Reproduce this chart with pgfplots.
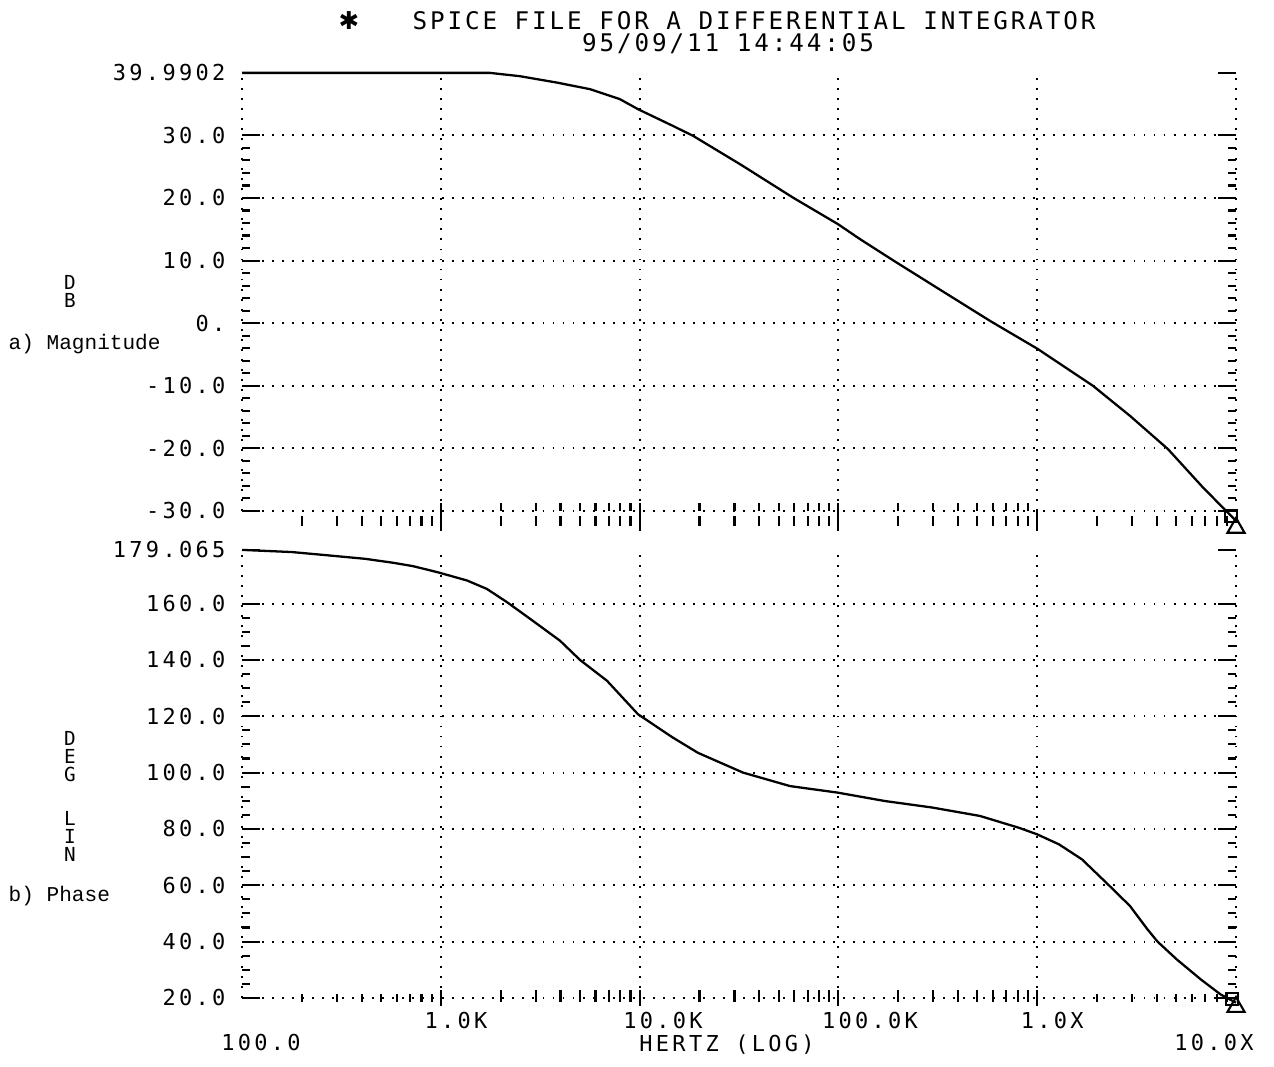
\documentclass[border=0pt]{standalone}
\usepackage{pgfplots}
\pgfplotsset{compat=1.18}
\usepackage{fontspec}
\newfontfamily\plotfont[LetterSpace=15]{DejaVu Sans Mono}
\newfontfamily\titlefont[LetterSpace=12]{DejaVu Sans Mono}
\newfontfamily\typefont{Liberation Mono}
\newfontfamily\symfont{DejaVu Sans}
\newcommand{\pf}{\plotfont\fontsize{6.25pt}{7pt}\selectfont}
\newcommand{\stk}{\plotfont\fontsize{5.5pt}{6pt}\selectfont}
\newcommand{\ttl}{\titlefont\fontsize{6.9pt}{8pt}\selectfont}
\newcommand{\tf}{\typefont\fontsize{6pt}{7pt}\selectfont}

\tikzset{dotgrid/.style={black, line width=0.55pt, dash pattern=on 0.55pt off 2.3pt}}
\def\minorx{200,300,400,500,600,700,800,900,
  2000,3000,4000,5000,6000,7000,8000,9000,
  20000,30000,40000,50000,60000,70000,80000,90000,
  200000,300000,400000,500000,600000,700000,800000,900000,
  2000000,3000000,4000000,5000000,6000000,7000000,8000000,9000000}

\begin{document}
\begin{tikzpicture}
\path (0,0) rectangle (12.74,-10.55);

% ---------- a) magnitude ----------
\begin{axis}[scale only axis, width=9.94cm, height=4.38cm,
  xmode=log, xmin=100, xmax=1e7, ymin=-30, ymax=39.9902,
  clip=false, anchor=north west, at={(2.42cm,-0.72cm)},
  tick style={black, line width=0.6pt}, tick align=inside,
  major tick length=0.18cm, minor tick length=0.08cm,
  axis x line*=bottom, axis y line*=left,
  x axis line style={draw=none}, y axis line style={dotgrid},
  xtick={1e3,1e4,1e5,1e6}, xticklabels={}, major x tick style={draw=none},
  xmajorgrids, ymajorgrids, grid style={dotgrid},
  ytick={-30,-20,-10,0,10,20,30},
  yticklabels={-30.0,-20.0,-10.0,0.,10.0,20.0,30.0},
  minor y tick num=4,
  extra y ticks={39.9902}, extra y tick labels={39.9902},
  extra y tick style={grid=none},
  yticklabel style={font=\pf, anchor=east, inner sep=0pt, xshift=-0.16cm}]
\addplot[black, line width=0.65pt] coordinates {
  (100,39.99) (1768,39.99) (2500,39.46) (3837,38.44) (5623,37.39)
  (7962,35.79) (9816,34.19) (14700,31.52) (18600,29.92) (32000,25.40)
  (59100,20.06) (99600,15.81) (128500,13.42) (192800,9.84) (330000,5.2)
  (579000,0.36) (1010000,-4.16) (1910000,-10.03) (2930000,-14.82)
  (4550000,-20.14) (6820000,-26.26) (10000000,-31.6)
};
\addplot[only marks, mark=square, mark size=1.7pt, black, line width=0.6pt]
  coordinates {(9440000,-30.8)};
\addplot[only marks, mark=triangle, mark size=2.8pt, black, line width=0.6pt]
  coordinates {(10000000,-32.7)};
\end{axis}
% bottom ticks of the magnitude panel
\begin{axis}[scale only axis, width=9.94cm, height=4.38cm,
  xmode=log, xmin=100, xmax=1e7, ymin=-30, ymax=39.9902,
  clip=false, anchor=north west, at={(2.42cm,-0.72cm)},
  tick style={black, line width=0.6pt},
  axis x line*=bottom, axis y line=none, x axis line style={draw=none},
  xtick={1e3,1e4,1e5,1e6}, minor xtick/.expanded={\minorx}, xticklabels={},
  tick align=outside, major tick length=0.2cm, minor tick length=0.1cm,
  minor x tick style={yshift=-0.05cm}]
\end{axis}
% right edge of the magnitude panel
\begin{axis}[scale only axis, width=9.94cm, height=4.38cm,
  xmode=log, xmin=100, xmax=1e7, ymin=-30, ymax=39.9902,
  clip=false, anchor=north west, at={(2.42cm,-0.72cm)},
  tick style={black, line width=0.6pt}, tick align=inside,
  major tick length=0.18cm, minor tick length=0.08cm,
  axis x line=none, axis y line*=right, y axis line style={dotgrid},
  ytick={-30,-20,-10,0,10,20,30}, yticklabels={}, minor y tick num=4,
  extra y ticks={39.9902}, extra y tick labels={}]
\end{axis}

% ---------- b) phase ----------
\begin{axis}[scale only axis, width=9.94cm, height=4.48cm,
  xmode=log, xmin=100, xmax=1e7, ymin=20, ymax=179.065,
  clip=false, anchor=north west, at={(2.42cm,-5.49cm)},
  tick style={black, line width=0.6pt}, tick align=inside,
  major tick length=0.18cm, minor tick length=0.08cm,
  axis x line*=bottom, axis y line*=left,
  x axis line style={draw=none}, y axis line style={dotgrid},
  xtick={1e3,1e4,1e5,1e6}, xticklabels={}, major x tick style={draw=none},
  xmajorgrids, ymajorgrids, grid style={dotgrid},
  ytick={20,40,60,80,100,120,140,160},
  yticklabels={20.0,40.0,60.0,80.0,100.0,120.0,140.0,160.0},
  minor y tick num=3,
  extra y ticks={179.065}, extra y tick labels={179.065},
  extra y tick style={grid=none},
  yticklabel style={font=\pf, anchor=east, inner sep=0pt, xshift=-0.16cm}]
\addplot[black, line width=0.65pt] coordinates {
  (100,179.065) (178,178.3) (255,177.3) (416,175.9) (575,174.5) (724,173.3)
  (968,171.1) (1355,168.2) (1706,165.2) (2153,160.5) (2812,154.6)
  (3981,146.8) (5012,140.0) (6855,132.6) (9817,120.7) (14723,112.4)
  (19679,107.0) (33113,100.0) (57148,95.2) (98855,92.9) (171396,89.9)
  (295801,87.6) (515229,84.6) (809096,80.4) (997700,78.1) (1288250,74.5)
  (1678804,69.2) (2269865,60.3) (2930893,52.6) (3589219,44.3)
  (4027170,40.0) (5046612,33.6) (6668068,26.5) (8375292,21.2) (10000000,18.3)
};
\addplot[only marks, mark=square, mark size=1.7pt, black, line width=0.6pt]
  coordinates {(9550000,19.6)};
\addplot[only marks, mark=triangle, mark size=2.8pt, black, line width=0.6pt]
  coordinates {(10000000,16.8)};
\end{axis}
% bottom ticks and frequency labels
\begin{axis}[scale only axis, width=9.94cm, height=4.48cm,
  xmode=log, xmin=100, xmax=1e7, ymin=20, ymax=179.065,
  clip=false, anchor=north west, at={(2.42cm,-5.49cm)},
  tick style={black, line width=0.6pt},
  axis x line*=bottom, axis y line=none, x axis line style={draw=none},
  xtick={1e3,1e4,1e5,1e6}, minor xtick/.expanded={\minorx},
  xticklabels={1.0K,10.0K,100.0K,1.0X},
  tick align=center, major tick length=0.16cm, minor tick length=0.08cm,
  xticklabel style={font=\pf, anchor=north west, inner sep=0pt,
    xshift=-0.17cm, yshift=-0.06cm}]
\end{axis}
% right edge of the phase panel
\begin{axis}[scale only axis, width=9.94cm, height=4.48cm,
  xmode=log, xmin=100, xmax=1e7, ymin=20, ymax=179.065,
  clip=false, anchor=north west, at={(2.42cm,-5.49cm)},
  tick style={black, line width=0.6pt}, tick align=inside,
  major tick length=0.18cm, minor tick length=0.08cm,
  axis x line=none, axis y line*=right, y axis line style={dotgrid},
  ytick={20,40,60,80,100,120,140,160}, yticklabels={}, minor y tick num=3,
  extra y ticks={179.065}, extra y tick labels={}]
\end{axis}

% ---------- titles and labels ----------
\node[font=\symfont\fontsize{7pt}{8pt}\selectfont] at (3.49,-0.20) {✱};
\node[font=\ttl] at (7.54,-0.20) {SPICE FILE FOR A DIFFERENTIAL INTEGRATOR};
\node[font=\ttl] at (7.28,-0.43) {95/09/11 14:44:05};

\node[font=\stk, inner sep=0pt] at (0.70,-2.82) {D};
\node[font=\stk, inner sep=0pt] at (0.70,-3.00) {B};
\node[font=\tf, anchor=west, inner sep=0pt] at (0.08,-3.43) {a) Magnitude};

\node[font=\stk, inner sep=0pt] at (0.70,-7.38) {D};
\node[font=\stk, inner sep=0pt] at (0.70,-7.56) {E};
\node[font=\stk, inner sep=0pt] at (0.70,-7.74) {G};
\node[font=\stk, inner sep=0pt] at (0.70,-8.18) {L};
\node[font=\stk, inner sep=0pt] at (0.70,-8.36) {I};
\node[font=\stk, inner sep=0pt] at (0.70,-8.54) {N};
\node[font=\tf, anchor=west, inner sep=0pt] at (0.08,-8.95) {b) Phase};

\node[font=\pf] at (2.61,-10.42) {100.0};
\node[font=\pf] at (7.27,-10.44) {HERTZ (LOG)};
\node[font=\pf] at (12.14,-10.42) {10.0X};
\end{tikzpicture}
\end{document}
